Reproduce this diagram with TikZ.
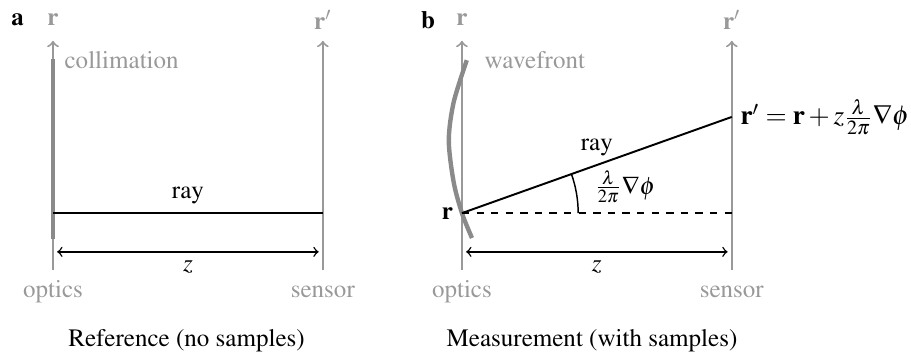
\documentclass[tikz,border=0pt]{standalone}
\usepackage[T1]{fontenc}
\usepackage{mathptmx}
\usepackage{tikz}
\definecolor{optgray}{HTML}{999999}

\begin{document}
\fontsize{10.3}{12.4}\selectfont
\begin{tikzpicture}[
  axis/.style={->, line width=0.8pt, optgray},
  thickgray/.style={line width=1.8pt, optgray!90!black},
  rayline/.style={line width=0.8pt, black},
  dimarr/.style={<->, line width=0.6pt, black},
  glbl/.style={text=optgray},
]
\useasboundingbox (-0.766,-2.10) rectangle (12.40,3.08);

% ── Panel a: reference ──
\node (taga) at (-0.51,2.79) {\textbf{a}};
\node[glbl] (ra) at (0,2.79) {$\mathbf{r}$};
\node[glbl] (rpa) at (3.9,2.79) {$\mathbf{r}'$};

\coordinate (oa) at (0,-0.82);
\coordinate (sa) at (3.9,-0.82);
\coordinate (ta) at (0,2.49);
\coordinate (tsa) at (3.9,2.49);
\draw[axis] (oa) -- (ta);
\draw[axis] (sa) -- (tsa);

\node[glbl] (opta) at (0,-1.14) {optics};
\node[glbl] (sena) at (3.9,-1.14) {sensor};

% collimated beam at the optics
\draw[thickgray] (0,2.23) -- (0,-0.38);
\node[glbl, anchor=west] (colla) at (0.04,2.21) {collimation};

% ray straight across
\coordinate (pa) at (0,0);
\coordinate (qa) at (3.9,0);
\draw[rayline] (pa) -- node[above] (raya) {ray} (qa);

% distance z
\coordinate (za) at (0.06,-0.56);
\coordinate (zb) at (3.84,-0.56);
\draw[dimarr] (za) -- node[below] (zlbla) {$z$} (zb);

\node (capa) at (1.93,-1.84) {Reference (no samples)};

% ── Panel b: measurement ──
\node (tagb) at (5.42,2.79) {\textbf{b}};
\node[glbl] (rb) at (5.91,2.79) {$\mathbf{r}$};
\node[glbl] (rpb) at (9.81,2.79) {$\mathbf{r}'$};

\coordinate (ob) at (5.91,-0.82);
\coordinate (sb) at (9.81,-0.82);
\coordinate (tb) at (5.91,2.49);
\coordinate (tsb) at (9.81,2.49);
\draw[axis] (ob) -- (tb);
\draw[axis] (sb) -- (tsb);

\node[glbl] (optb) at (5.91,-1.14) {optics};
\node[glbl] (senb) at (9.81,-1.14) {sensor};

% distorted wavefront
\draw[thickgray] plot[smooth] coordinates
  {(5.98,2.21) (5.79,1.6) (5.72,1.05) (5.79,0.45) (5.91,0) (6.055,-0.36)};
\node[glbl, anchor=west] (wavb) at (6.11,2.21) {wavefront};

% deflected ray and reference line
\coordinate (pb) at (5.91,0);
\coordinate (qb) at (9.81,1.39);
\coordinate (hb) at (9.81,0);
\draw[rayline] (pb) -- node[above] (rayb) {ray} (qb);
\draw[dashed, line width=0.6pt] (pb) -- (hb);
\draw[line width=0.6pt] ([shift={(0:1.68)}]pb) arc[start angle=0, end angle=19.6, radius=1.68];
\node (angb) at (8.27,0.38) {$\frac{\lambda}{2\pi}\nabla\phi$};

\node[anchor=east] (rlb) at (pb) {$\mathbf{r}$};
\node[anchor=west, font=\fontsize{11.2}{13}\selectfont] (rplb) at (qb)
  {$\mathbf{r}' = \mathbf{r} + z\frac{\lambda}{2\pi}\nabla\phi$};

% distance z
\coordinate (zc) at (5.97,-0.56);
\coordinate (zd) at (9.75,-0.56);
\draw[dimarr] (zc) -- node[below] (zlblb) {$z$} (zd);

\node (capb) at (7.79,-1.84) {Measurement (with samples)};

\end{tikzpicture}
\end{document}
